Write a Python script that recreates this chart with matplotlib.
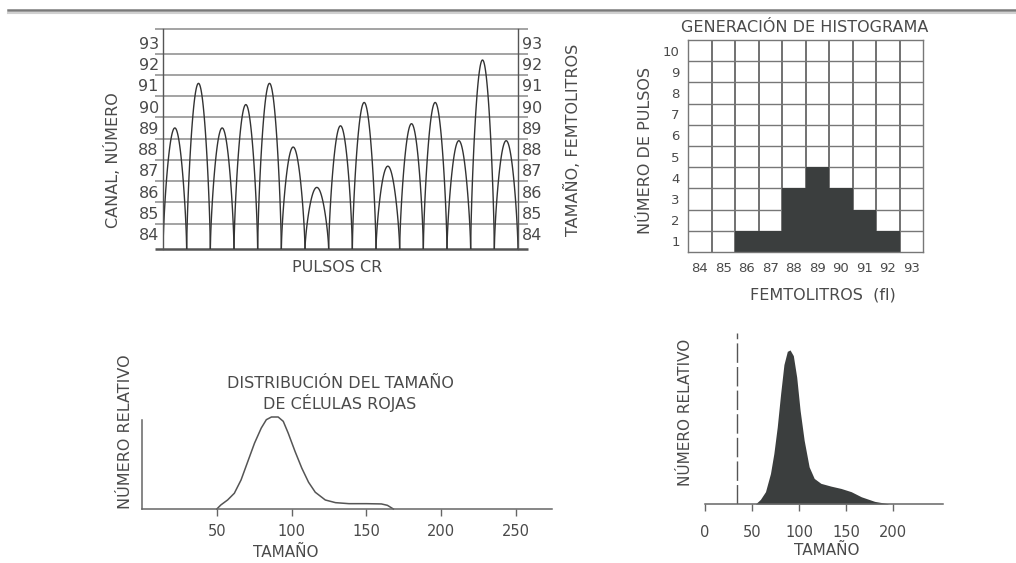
import numpy as np
import matplotlib
matplotlib.use('Agg')
import matplotlib.pyplot as plt
from matplotlib.lines import Line2D

# ---- data ----
# top left: pulse heights (channel number) for 15 red cell pulses
pulse_peaks = [89, 91.1, 89, 90.1, 91.1, 88.1, 86.2, 89.1, 90.2, 87.2, 89.2, 90.2, 88.4, 92.2, 88.4]
channel_ticks = [84, 85, 86, 87, 88, 89, 90, 91, 92, 93]
channel_lines = [84.5, 85.5, 86.5, 87.5, 88.5, 89.5, 90.5, 91.5, 92.5]

# top right: histogram of the pulses
femto_bins = [84, 85, 86, 87, 88, 89, 90, 91, 92, 93]
pulse_counts = [0, 0, 1, 1, 3, 4, 3, 2, 1, 0]
count_ticks = [1, 2, 3, 4, 5, 6, 7, 8, 9, 10]

# bottom left: size distribution curve
rbc_size = [50, 52.7, 57.2, 61.7, 66.2, 70.7, 75.2, 79.7, 83.1, 86.5, 91, 94.4, 97.7,
            102.3, 106.8, 111.3, 115.8, 122.5, 129.3, 138.3, 150, 160, 164, 168]
rbc_rel = [0, 4.4, 9.8, 17.1, 31.6, 51.6, 71.6, 88, 97.1, 100, 100, 95.3, 82.5,
           62.5, 44.4, 29.1, 18.2, 9.8, 6.9, 5.8, 5.8, 5.5, 4, 0]
size_ticks_left = [50, 100, 150, 200, 250]

# bottom right: filled analyser histogram
anal_size = [53.6, 58.9, 64.3, 69.6, 73.2, 76.8, 80.4, 83.9, 87.5, 90.4, 93.9, 97.5,
             101.1, 105.4, 110.7, 116.1, 123.2, 133.9, 144.6, 155.4, 166.1, 180.4, 194.6]
anal_rel = [0, 3.0, 8.0, 19.8, 32.8, 50, 71.6, 90.5, 99.1, 100, 96.3, 82.3,
            60.8, 41.4, 24.1, 16.6, 13.4, 11.6, 10.1, 8.0, 4.7, 1.7, 0.2]
size_ticks_right = [0, 50, 100, 150, 200]
threshold = 34

W, H = 1016, 563
TXT = '#4a4a4a'
LINE = '#555555'
DARK = '#3b3e3e'

plt.rcParams['font.family'] = ['DejaVu Sans']


def box(x0, y0, x1, y1):
    return [x0 / W, 1 - y1 / H, (x1 - x0) / W, (y1 - y0) / H]


def ftext(x, y, s, **kw):
    kw.setdefault('color', TXT)
    fig.text(x / W, 1 - y / H, s, ha='center', va='center', **kw)


fig = plt.figure(figsize=(W / 100, H / 100), dpi=100)
fig.patch.set_facecolor('white')

# scan border at the top
fig.add_artist(Line2D([8 / W, 1], [1 - 10 / H] * 2, color='#7a7a7a', lw=1.8))
fig.add_artist(Line2D([8 / W, 1], [1 - 12.5 / H] * 2, color='#d0d0d0', lw=1.5))

# ---------------- top left: pulses ----------------
ax1 = fig.add_axes(box(163, 29, 518, 249))
base = 83.3
top = 93.66
ax1.set_xlim(0, len(pulse_peaks))
ax1.set_ylim(base, top)
ax1.hlines(channel_lines + [top], -0.34, 15.42, color='#8a8a8a', lw=1.1, clip_on=False)
ax1.hlines([base], -0.34, 15.42, color='#555555', lw=1.8, clip_on=False)
for i, p in enumerate(pulse_peaks):
    t = np.linspace(0, 1, 81)
    ax1.plot(i + t, base + (p - base) * np.sin(np.pi * t) ** 0.7, color='#333333', lw=1.0)
for s in ['top', 'bottom']:
    ax1.spines[s].set_visible(False)
for s in ['left', 'right']:
    ax1.spines[s].set_color(LINE)
    ax1.spines[s].set_linewidth(1.0)
ax1.set_xticks([])
ax1.set_yticks(channel_ticks)
ax1.tick_params(axis='y', length=0, pad=3, labelsize=11.5, labelcolor=TXT,
                labelleft=True, labelright=True)
ftext(113, 160, 'CANAL, NÚMERO', rotation=90, fontsize=11.5)
ftext(572, 140, 'TAMAÑO, FEMTOLITROS', rotation=90, fontsize=11.5)
ftext(337, 268, 'PULSOS CR', fontsize=11.5)

# ---------------- top right: histogram ----------------
ax2 = fig.add_axes(box(688, 40, 923, 252))
ax2.set_xlim(83.5, 93.5)
ax2.set_ylim(0, 10)
ax2.vlines(np.arange(84.5, 93.5, 1), 0, 10, color='#4a4a4a', lw=1.1, zorder=1)
ax2.hlines(np.arange(1, 10), 83.5, 93.5, color='#777777', lw=1.0, zorder=1)
ax2.bar(femto_bins, pulse_counts, width=1, color=DARK, zorder=2)
for s in ax2.spines.values():
    s.set_color('#777777')
    s.set_linewidth(1.0)
ax2.set_xticks(femto_bins)
ax2.set_yticks([c - 0.5 for c in count_ticks])
ax2.set_yticklabels([str(c) for c in count_ticks])
ax2.tick_params(axis='x', length=0, pad=7, labelsize=9.5, labelcolor=TXT)
ax2.tick_params(axis='y', length=0, pad=6, labelsize=9.5, labelcolor=TXT)
ftext(805, 27, 'GENERACIÓN DE HISTOGRAMA', fontsize=11.5)
ftext(823, 295, 'FEMTOLITROS  (fl)', fontsize=11.5)
ftext(645, 151, 'NÚMERO DE PULSOS', rotation=90, fontsize=11.5)

# ---------------- bottom left: distribution curve ----------------
ax3 = fig.add_axes(box(142, 417, 552, 509))
ax3.set_xlim(0, 274)
ax3.set_ylim(0, 100)
ax3.plot(rbc_size, rbc_rel, color='#555555', lw=1.1, clip_on=False)
ax3.spines['top'].set_visible(False)
ax3.spines['right'].set_visible(False)
ax3.spines['left'].set_bounds(0, 97)
for s in ['left', 'bottom']:
    ax3.spines[s].set_color('#666666')
    ax3.spines[s].set_linewidth(1.1)
ax3.set_yticks([])
ax3.set_xticks(size_ticks_left)
ax3.tick_params(axis='x', length=5, width=1, color='#666666', pad=6,
                labelsize=10.5, labelcolor=TXT)
ftext(340, 383, 'DISTRIBUCIÓN DEL TAMAÑO', fontsize=11.5)
ftext(340, 403, 'DE CÉLULAS ROJAS', fontsize=11.5)
ftext(125, 432, 'NÚMERO RELATIVO', rotation=90, fontsize=11.5)
ftext(286, 552, 'TAMAÑO', fontsize=11)

# ---------------- bottom right: filled histogram ----------------
ax4 = fig.add_axes(box(705, 333, 943, 504))
ax4.set_xlim(0, 253)
ax4.set_ylim(0, 111)
ax4.fill_between(anal_size, anal_rel, color=DARK, lw=0)
ax4.axvline(threshold, color='#555555', lw=1.0, dashes=(14, 3))
for s in ['top', 'right', 'left']:
    ax4.spines[s].set_visible(False)
ax4.spines['bottom'].set_color('#666666')
ax4.spines['bottom'].set_linewidth(1.1)
ax4.set_yticks([])
ax4.set_xticks(size_ticks_right)
ax4.tick_params(axis='x', length=5, width=1, color='#666666', pad=10,
                labelsize=10.5, labelcolor=TXT)
ftext(685, 412, 'NÚMERO RELATIVO', rotation=90, fontsize=11)
ftext(827, 550, 'TAMAÑO', fontsize=11)

fig.savefig('out.png', dpi=100, facecolor='white')
